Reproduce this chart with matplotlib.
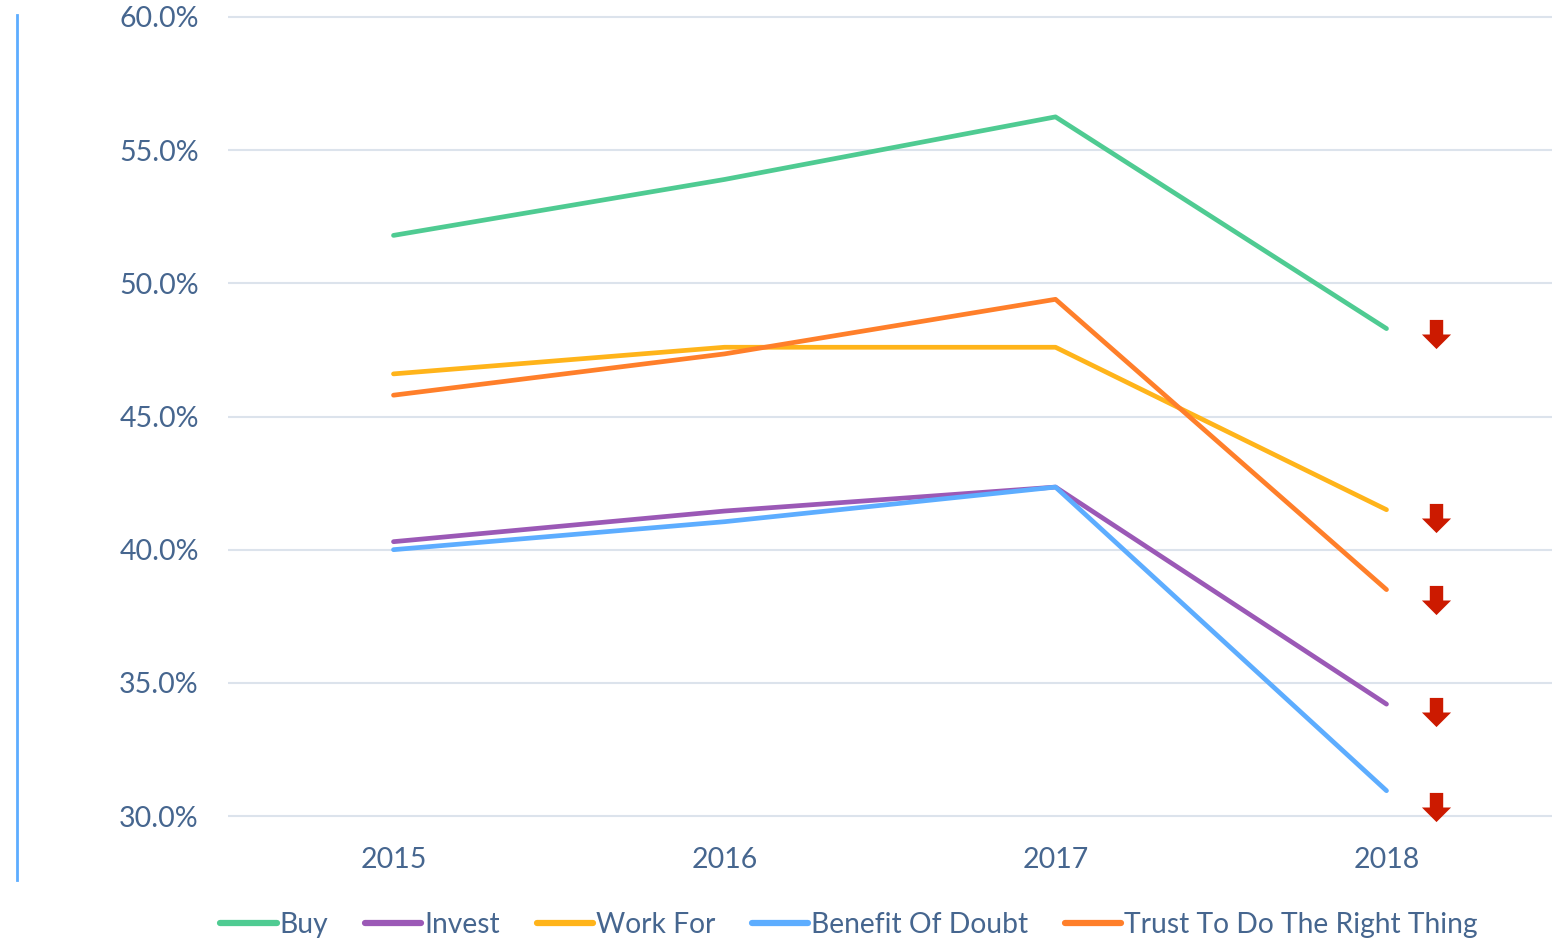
import matplotlib
matplotlib.use("Agg")
import matplotlib.pyplot as plt
from matplotlib.path import Path
from matplotlib.lines import Line2D

plt.rcParams['font.family'] = ['Lato', 'DejaVu Sans']

years = ["2015", "2016", "2017", "2018"]
buy = [51.8, 53.9, 56.25, 48.3]
invest = [40.3, 41.45, 42.35, 34.2]
work_for = [46.6, 47.6, 47.6, 41.5]
benefit = [40.0, 41.05, 42.35, 30.95]
trust = [45.8, 47.35, 49.4, 38.5]
arrow_values = [48.1, 41.2, 38.1, 33.9, 30.35]
yticks = [30, 35, 40, 45, 50, 55, 60]

series = [
    ("Buy", buy, "#4FCB92"),
    ("Invest", invest, "#9B59B6"),
    ("Work For", work_for, "#FFB41A"),
    ("Benefit Of Doubt", benefit, "#5DADFF"),
    ("Trust To Do The Right Thing", trust, "#FF7F2A"),
]

W, H = 1562, 944
fig = plt.figure(figsize=(W / 100, H / 100), dpi=100)
ax_top, ax_bot = 10, 830
ax = fig.add_axes([228 / W, 1 - ax_bot / H, (1552 - 228) / W, (ax_bot - ax_top) / H])

x = list(range(len(years)))
for name, vals, col in series:
    ax.plot(x, vals, color=col, lw=3.4, label=name, solid_capstyle='round', zorder=3)

# down arrows
arrow_path = Path([(-0.23, 0.5), (0.23, 0.5), (0.23, 0.0), (0.5, 0.0), (0.0, -0.5),
                   (-0.5, 0.0), (-0.23, 0.0), (-0.23, 0.5)],
                  [Path.MOVETO] + [Path.LINETO] * 6 + [Path.CLOSEPOLY])
ax.plot([3.15] * len(arrow_values), arrow_values, linestyle='none', marker=arrow_path,
        markersize=21, color="#CC1A00", markeredgewidth=0, zorder=4)

px_per_pct = 133.2 / 5
ax.set_ylim(30 - (ax_bot - 816) / px_per_pct, 60 + (17 - ax_top) / px_per_pct)
ax.set_xlim(-0.5, 3.5)
ax.set_yticks(yticks)
ax.set_yticklabels([f"{v:.1f}%" for v in yticks])
ax.set_xticks(x)
ax.set_xticklabels(years)
ax.grid(axis='y', color="#DCE3EC", lw=1.5)
ax.set_axisbelow(True)
for s in ax.spines.values():
    s.set_visible(False)
tc = "#46668F"
ax.tick_params(axis='y', length=0, pad=21, labelsize=20.5, labelcolor=tc)
ax.tick_params(axis='x', length=0, pad=12, labelsize=20.5, labelcolor=tc)
for lab in ax.get_yticklabels():
    lab.set_va('center_baseline')

# left vertical line
fig.add_artist(Line2D([17 / W, 17 / W], [1 - 15 / H, 1 - 880 / H], color="#5DADFF", lw=2,
                      transform=fig.transFigure))

leg = fig.legend(loc='center', bbox_to_anchor=(849 / W, 1 - 925 / H), ncol=5, frameon=False,
                 fontsize=20.3, handlelength=2.0, handletextpad=0.1, columnspacing=1.3,
                 labelcolor=tc)
for h in leg.get_lines():
    h.set_linewidth(4.5)

fig.savefig("out.png", dpi=100)
